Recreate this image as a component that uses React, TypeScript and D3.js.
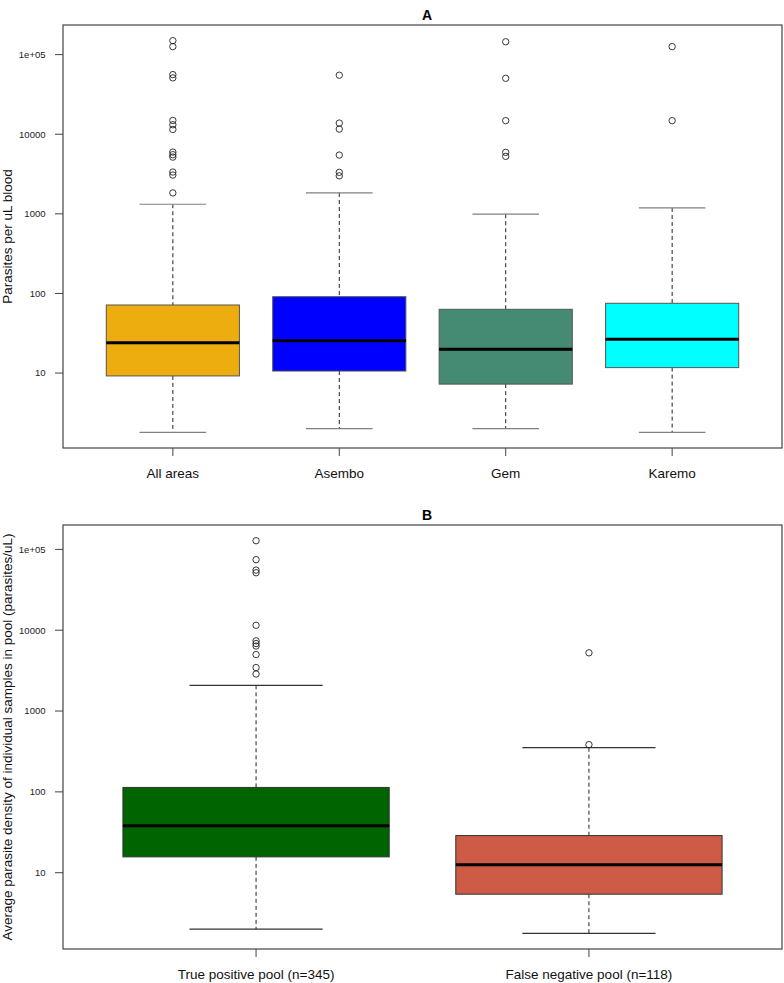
import React from "react";
import * as d3 from "d3";

// ---------- Data ----------
const areaCategories = ["All areas", "Asembo", "Gem", "Karemo"];
const areaColors = ["#EEAD0E", "#0000FF", "#458B74", "#00FFFF"];
const areaLowerWhisker = [1.8, 2.0, 2.0, 1.8];
const areaQ1 = [9.2, 10.6, 7.26, 11.7];
const areaMedian = [24.1, 25.5, 19.9, 26.6];
const areaQ3 = [71.6, 91, 63.2, 75.2];
const areaUpperWhisker = [1320, 1830, 989, 1185];
const areaOutliers = [
  [149700, 126000, 56100, 51000, 14900, 13150, 11480, 5970, 5530, 5160, 3350, 3070, 1830],
  [55100, 13800, 11600, 5470, 3320, 3000],
  [145000, 50400, 14800, 5920, 5270],
  [126000, 14800],
];

const poolCategories = ["True positive pool (n=345)", "False negative pool (n=118)"];
const poolColors = ["#006400", "#CD5B45"];
const poolLowerWhisker = [2.0, 1.78];
const poolQ1 = [15.7, 5.42];
const poolMedian = [38, 12.5];
const poolQ3 = [113.5, 28.8];
const poolUpperWhisker = [2080, 352];
const poolOutliers = [
  [128000, 74500, 55400, 51400, 11500, 7390, 6840, 6370, 5000, 3450, 2870],
  [5250, 384],
];

const yTickValues = [10, 100, 1000, 10000, 100000];
const yTickLabels = ["10", "100", "1000", "10000", "1e+05"];

// ---------- Panel ----------
type PanelProps = {
  title: string;
  yLabel: string;
  categories: string[];
  colors: string[];
  lo: number[];
  q1: number[];
  med: number[];
  q3: number[];
  hi: number[];
  outliers: number[][];
  left: number;
  right: number;
  top: number;
  bottom: number;
  capColor: string;
  boxStroke: string;
};

function Panel(p: PanelProps) {
  const n = p.categories.length;
  const allVals = [...p.lo, ...p.hi, ...p.outliers.flat()];
  const lmin = Math.log10(d3.min(allVals) as number);
  const lmax = Math.log10(d3.max(allVals) as number);
  const ext = (lmax - lmin) * 0.04;
  const y = d3
    .scaleLog()
    .domain([Math.pow(10, lmin - ext), Math.pow(10, lmax + ext)])
    .range([p.bottom, p.top]);
  const xr = (n + 0.5 - 0.5) * 0.04;
  const x = d3
    .scaleLinear()
    .domain([0.5 - xr, n + 0.5 + xr])
    .range([p.left, p.right]);
  const unit = x(2) - x(1);
  const boxW = unit * 0.8;
  const capW = boxW * 0.5;
  const font = "Liberation Sans, Arial, Helvetica, sans-serif";
  const cx = (p.left + p.right) / 2;
  const cy = (p.top + p.bottom) / 2;

  return (
    <g>
      <text
        x={427}
        y={p.top - 5}
        textAnchor="middle"
        fontFamily={font}
        fontWeight="bold"
        fontSize={14}
        fill="#000"
      >
        {p.title}
      </text>
      <text
        transform={`translate(11.5,${cy}) rotate(-90)`}
        textAnchor="middle"
        fontFamily={font}
        fontSize={13.5}
        fill="#111"
      >
        {p.yLabel}
      </text>
      {/* y axis ticks */}
      {yTickValues.map((v, i) => (
        <g key={"yt" + i}>
          <line x1={p.left - 8} x2={p.left} y1={y(v)} y2={y(v)} stroke="#444" strokeWidth={1} />
          <text
            x={45.5}
            y={y(v)}
            dy="0.35em"
            textAnchor="end"
            fontFamily={font}
            fontSize={9.5}
            fill="#222"
          >
            {yTickLabels[i]}
          </text>
        </g>
      ))}
      {/* x ticks and labels */}
      {p.categories.map((c, i) => (
        <g key={"xt" + i}>
          <line x1={x(i + 1)} x2={x(i + 1)} y1={p.bottom} y2={p.bottom + 8} stroke="#444" strokeWidth={1} />
          <text
            x={x(i + 1)}
            y={p.bottom + 30}
            textAnchor="middle"
            fontFamily={font}
            fontSize={13.5}
            fill="#111"
          >
            {c}
          </text>
        </g>
      ))}
      {/* boxes */}
      {p.categories.map((c, i) => {
        const xc = x(i + 1);
        return (
          <g key={"b" + i}>
            <line x1={xc} x2={xc} y1={y(p.hi[i])} y2={y(p.q3[i])} stroke="#222" strokeWidth={1} strokeDasharray="4,3" />
            <line x1={xc} x2={xc} y1={y(p.q1[i])} y2={y(p.lo[i])} stroke="#222" strokeWidth={1} strokeDasharray="4,3" />
            <line x1={xc - capW / 2} x2={xc + capW / 2} y1={y(p.hi[i])} y2={y(p.hi[i])} stroke={p.capColor} strokeWidth={1.2} />
            <line x1={xc - capW / 2} x2={xc + capW / 2} y1={y(p.lo[i])} y2={y(p.lo[i])} stroke={p.capColor} strokeWidth={1.2} />
            <rect
              x={xc - boxW / 2}
              width={boxW}
              y={y(p.q3[i])}
              height={y(p.q1[i]) - y(p.q3[i])}
              fill={p.colors[i]}
              stroke={p.boxStroke}
              strokeWidth={1}
            />
            <line x1={xc - boxW / 2} x2={xc + boxW / 2} y1={y(p.med[i])} y2={y(p.med[i])} stroke="#000" strokeWidth={3} />
            {p.outliers[i].map((v, j) => (
              <circle key={j} cx={xc} cy={y(v)} r={3.2} fill="none" stroke="#222" strokeWidth={0.9} />
            ))}
          </g>
        );
      })}
      {/* frame */}
      <rect
        x={p.left}
        y={p.top}
        width={p.right - p.left}
        height={p.bottom - p.top}
        fill="none"
        stroke="#444"
        strokeWidth={1.2}
      />
    </g>
  );
}

export default function App() {
  return (
    <svg
      width={784}
      height={983}
      style={{ position: "absolute", left: 0, top: 0, background: "#fff" }}
    >
      <rect x={0} y={0} width={784} height={983} fill="#fff" />
      <Panel
        title="A"
        yLabel="Parasites per uL blood"
        categories={areaCategories}
        colors={areaColors}
        lo={areaLowerWhisker}
        q1={areaQ1}
        med={areaMedian}
        q3={areaQ3}
        hi={areaUpperWhisker}
        outliers={areaOutliers}
        left={63}
        right={782}
        top={25}
        bottom={448}
        capColor="#808080"
        boxStroke="#555"
      />
      <Panel
        title="B"
        yLabel="Average parasite density of individual samples in pool (parasites/uL)"
        categories={poolCategories}
        colors={poolColors}
        lo={poolLowerWhisker}
        q1={poolQ1}
        med={poolMedian}
        q3={poolQ3}
        hi={poolUpperWhisker}
        outliers={poolOutliers}
        left={63}
        right={782}
        top={525}
        bottom={949}
        capColor="#333"
        boxStroke="#333"
      />
    </svg>
  );
}
